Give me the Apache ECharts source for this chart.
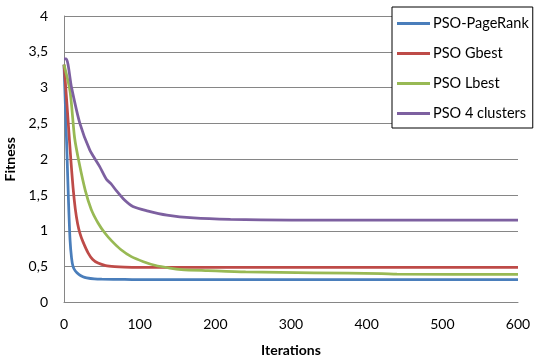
<!DOCTYPE html>
<html><head><meta charset="utf-8">
<script src="https://cdn.jsdelivr.net/npm/echarts@6/dist/echarts.min.js"></script>
<style>html,body{margin:0;padding:0;background:#fff}#c{width:535px;height:363px}</style>
</head><body><div id="c"></div>
<script>
const seriesNames = ['PSO-PageRank', 'PSO Gbest', 'PSO Lbest', 'PSO 4 clusters'];
const xTicks = [0, 100, 200, 300, 400, 500, 600];
const yTicks = [0, 0.5, 1, 1.5, 2, 2.5, 3, 3.5, 4];

const pagerankIter = [0, 2, 4, 6, 8, 10, 12, 15, 20, 25, 30, 40, 50, 80, 100, 200, 400, 600];
const pagerankFit  = [3.32, 2.7, 2.05, 1.4, 0.87, 0.62, 0.5, 0.44, 0.39, 0.36, 0.345, 0.33, 0.325, 0.322, 0.32, 0.32, 0.32, 0.32];

const gbestIter = [0, 3, 6, 9, 12, 15, 18, 21, 25, 32, 38, 45, 55, 67, 80, 100, 200, 400, 600];
const gbestFit  = [3.32, 2.9, 2.45, 2.0, 1.6, 1.3, 1.1, 0.97, 0.85, 0.69, 0.6, 0.55, 0.515, 0.5, 0.493, 0.49, 0.49, 0.49, 0.49];

const lbestIter = [0, 8, 14, 20, 28, 36, 45, 54, 63, 75, 89, 105, 120, 140, 155, 190, 240, 330, 420, 440, 600];
const lbestFit  = [3.32, 2.95, 2.3, 1.95, 1.57, 1.3, 1.11, 0.97, 0.86, 0.74, 0.64, 0.57, 0.52, 0.48, 0.46, 0.445, 0.426, 0.415, 0.402, 0.395, 0.393];

const clustersIter = [0, 3, 10, 21, 34, 47, 56, 62, 70, 80, 91, 110, 136, 171, 220, 300, 600];
const clustersFit  = [3.4, 3.4, 3.0, 2.5, 2.13, 1.9, 1.72, 1.66, 1.55, 1.43, 1.34, 1.28, 1.22, 1.18, 1.16, 1.15, 1.15];

const colors = ['#4a7ebb', '#be4b48', '#98b954', '#7d60a0'];
const iters = [pagerankIter, gbestIter, lbestIter, clustersIter];
const fits = [pagerankFit, gbestFit, lbestFit, clustersFit];

const FONT = 'Lato';
const chart = echarts.init(document.getElementById('c'), null, {renderer: 'canvas'});
chart.setOption({
  animation: false,
  backgroundColor: '#fff',
  textStyle: {fontFamily: FONT},
  grid: {left: 64, right: 17, top: 16, bottom: 60.5, containLabel: false, outerBoundsMode: 'none'},
  xAxis: {
    type: 'value', min: xTicks[0], max: xTicks[xTicks.length - 1], interval: 100,
    name: 'Iterations', nameLocation: 'middle', nameGap: 41,
    nameTextStyle: {fontFamily: FONT, fontWeight: 'bold', fontSize: 14, color: '#000'},
    axisLine: {show: true, lineStyle: {color: '#868686', width: 1}},
    axisTick: {show: false},
    splitLine: {show: false},
    axisLabel: {fontFamily: FONT, fontSize: 14, color: '#000', margin: 15}
  },
  yAxis: {
    type: 'value', min: yTicks[0], max: yTicks[yTicks.length - 1], interval: 0.5,
    name: 'Fitness', nameLocation: 'middle', nameGap: 45,
    nameTextStyle: {fontFamily: FONT, fontWeight: 'bold', fontSize: 14, color: '#000'},
    axisLine: {show: true, lineStyle: {color: '#868686', width: 1}},
    axisTick: {show: false},
    splitLine: {show: true, lineStyle: {color: '#868686', width: 1}},
    axisLabel: {fontFamily: FONT, fontSize: 14, color: '#000', margin: 16,
      formatter: v => String(v).replace('.', ',')}
  },
  legend: {
    orient: 'vertical', left: 392, top: 7,
    backgroundColor: '#fff', borderColor: '#000', borderWidth: 1,
    padding: [9, 4, 7, 5],
    itemWidth: 33, itemHeight: 3, itemGap: 15,
    icon: 'rect',
    textStyle: {fontFamily: FONT, fontSize: 14.5, color: '#000', padding: [0, 0, 0, -2]},
    data: seriesNames
  },
  series: seriesNames.map((n, i) => ({
    name: n, type: 'line', showSymbol: false, smooth: 0.25,
    data: iters[i].map((x, k) => [x, fits[i][k]]),
    lineStyle: {color: colors[i], width: 2.75},
    itemStyle: {color: colors[i]},
    z: 2 + i
  }))
});
</script></body></html>
